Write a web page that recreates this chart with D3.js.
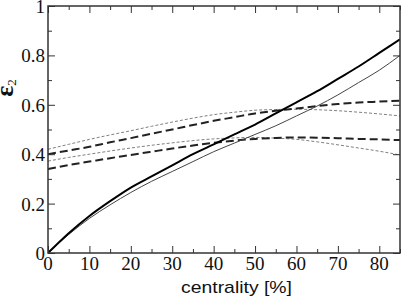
<!DOCTYPE html>
<html>
<head>
<meta charset="utf-8">
<script src="https://cdn.jsdelivr.net/npm/d3@7"></script>
<style>
  body { margin: 0; background: #fff; }
  svg { display: block; }
</style>
</head>
<body>
<svg id="chart" width="401" height="300"></svg>
<script>
// DATA
var centrality = [0, 5, 10, 15, 20, 25, 30, 35, 40, 45, 50, 55, 60, 65, 70, 75, 80, 85];
var thickSolid = [0, 0.08, 0.15, 0.21, 0.265, 0.31, 0.355, 0.40, 0.44, 0.48, 0.52, 0.565, 0.61, 0.655, 0.705, 0.755, 0.81, 0.865];
var thinSolid  = [0, 0.075, 0.14, 0.195, 0.245, 0.29, 0.33, 0.37, 0.41, 0.445, 0.48, 0.515, 0.555, 0.595, 0.64, 0.69, 0.74, 0.80];
var upperDash  = [0.40, 0.415, 0.43, 0.448, 0.465, 0.483, 0.50, 0.518, 0.535, 0.55, 0.565, 0.576, 0.585, 0.595, 0.603, 0.609, 0.613, 0.617];
var upperDot   = [0.42, 0.44, 0.46, 0.478, 0.495, 0.513, 0.53, 0.546, 0.56, 0.57, 0.578, 0.581, 0.582, 0.58, 0.576, 0.57, 0.563, 0.555];
var lowerDash  = [0.34, 0.356, 0.37, 0.384, 0.397, 0.41, 0.423, 0.435, 0.446, 0.455, 0.462, 0.466, 0.468, 0.467, 0.465, 0.462, 0.46, 0.457];
var lowerDot   = [0.372, 0.387, 0.40, 0.413, 0.425, 0.436, 0.446, 0.455, 0.462, 0.466, 0.468, 0.465, 0.46, 0.45, 0.438, 0.425, 0.412, 0.397];
var xTicks = [0, 10, 20, 30, 40, 50, 60, 70, 80];
var yTicks = [0, 0.2, 0.4, 0.6, 0.8, 1];

// SIZES
var mLeft = 48, mRight = 400, mTop = 6, mBottom = 253;
var majorLen = 7, minorLen = 4;
var frameColor = "#333";
var tickFont = 19;

var svg = d3.select("#chart");

var x = d3.scaleLinear().domain([0, 85]).range([mLeft, mRight]);
var y = d3.scaleLinear().domain([0, 1]).range([mBottom, mTop]);

// curves
var series = [
  {v: upperDot,  color: "#808080", width: 1,   dash: "3,2"},
  {v: lowerDot,  color: "#808080", width: 1,   dash: "3,2"},
  {v: upperDash, color: "#222",    width: 2,   dash: "8,4"},
  {v: lowerDash, color: "#222",    width: 2,   dash: "8,4"},
  {v: thinSolid, color: "#444",    width: 1,   dash: null},
  {v: thickSolid,color: "#000",    width: 2,   dash: null}
];

var line = d3.line()
  .x(function(d, i){ return x(centrality[i]); })
  .y(function(d){ return y(d); })
  .curve(d3.curveMonotoneX);

svg.append("defs").append("clipPath").attr("id", "clip")
  .append("rect").attr("x", mLeft).attr("y", mTop)
  .attr("width", mRight - mLeft).attr("height", mBottom - mTop);

svg.append("g").attr("clip-path", "url(#clip)")
  .selectAll("path")
  .data(series)
  .enter()
  .append("path")
  .attr("d", function(d){ return line(d.v); })
  .attr("fill", "none")
  .attr("stroke", function(d){ return d.color; })
  .attr("stroke-width", function(d){ return d.width; })
  .attr("stroke-dasharray", function(d){ return d.dash; });

// axes, ticks inside, on all four sides
var xAll = d3.range(0, 86, 5);
var yAll = d3.range(0, 11).map(function(i){ return i / 10; });

function styleAxis(g){
  g.select(".domain").remove();
  g.selectAll(".tick line").attr("stroke", frameColor).attr("stroke-width", 1);
  g.selectAll(".tick text").remove();
}

function isMajor(v, step){ return Math.abs(v / step - Math.round(v / step)) < 1e-6; }

var axes = [
  {make: d3.axisBottom, s: x, at: "translate(0," + mBottom + ")", vals: xAll, step: 10},
  {make: d3.axisTop,    s: x, at: "translate(0," + mTop + ")",    vals: xAll, step: 10},
  {make: d3.axisLeft,   s: y, at: "translate(" + mLeft + ",0)",   vals: yAll, step: 0.2},
  {make: d3.axisRight,  s: y, at: "translate(" + mRight + ",0)",  vals: yAll, step: 0.2}
];
axes.forEach(function(a){
  var maj = a.vals.filter(function(v){ return isMajor(v, a.step); });
  var min = a.vals.filter(function(v){ return !isMajor(v, a.step); });
  svg.append("g").attr("transform", a.at)
    .call(a.make(a.s).tickValues(maj).tickSize(-majorLen))
    .call(styleAxis);
  svg.append("g").attr("transform", a.at)
    .call(a.make(a.s).tickValues(min).tickSize(-minorLen))
    .call(styleAxis);
});

// frame
svg.append("rect")
  .attr("x", mLeft).attr("y", mTop)
  .attr("width", mRight - mLeft).attr("height", mBottom - mTop)
  .attr("fill", "none").attr("stroke", frameColor).attr("stroke-width", 1.5);

// tick labels
svg.append("g").selectAll("text")
  .data(xTicks).enter().append("text")
  .attr("x", function(d){ return x(d); })
  .attr("y", 270)
  .attr("text-anchor", "middle")
  .attr("font-family", "Liberation Serif")
  .attr("font-size", tickFont)
  .attr("fill", "#111")
  .text(function(d){ return d; });

svg.append("g").selectAll("text")
  .data(yTicks).enter().append("text")
  .attr("x", 45)
  .attr("y", function(d){ return y(d) + 7; })
  .attr("text-anchor", "end")
  .attr("font-family", "Liberation Serif")
  .attr("font-size", tickFont)
  .attr("fill", "#111")
  .text(function(d){ return d; });

// axis titles
svg.append("text")
  .attr("x", 181).attr("y", 293)
  .attr("font-family", "Liberation Sans")
  .attr("font-size", 17)
  .attr("textLength", 111)
  .attr("lengthAdjust", "spacingAndGlyphs")
  .attr("fill", "#111")
  .text("centrality [%]");

var yt = svg.append("text")
  .attr("transform", "translate(13,88) rotate(-90)")
  .attr("text-anchor", "middle")
  .attr("font-family", "Liberation Serif")
  .attr("fill", "#111");
yt.append("tspan").attr("font-size", 26).attr("font-weight", "bold").text("ε");
yt.append("tspan").attr("font-size", 13).attr("dy", 3).text("2");
</script>
</body>
</html>
